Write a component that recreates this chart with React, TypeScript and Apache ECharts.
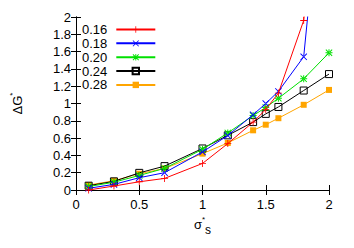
import React, { useEffect, useRef } from "react";
import * as echarts from "echarts";

const xValues = [0.1, 0.3, 0.5, 0.7, 1.0, 1.2, 1.4, 1.5, 1.6, 1.8, 2.0];
const seriesNames = ["0.16", "0.18", "0.20", "0.24", "0.28"];
const s016 = [0.0, 0.046, 0.095, 0.134, 0.307, 0.537, 0.785, 0.93, 1.12, 1.96, 5.0];
const s018 = [0.02, 0.065, 0.142, 0.2, 0.44, 0.63, 0.87, 1.0, 1.14, 1.54, 4.5];
const s020 = [0.04, 0.09, 0.168, 0.25, 0.47, 0.66, 0.86, 0.955, 1.06, 1.285, 1.586];
const s024 = [0.05, 0.1, 0.198, 0.276, 0.48, 0.632, 0.785, 0.88, 0.96, 1.15, 1.34];
const s028 = [0.057, 0.107, 0.188, 0.249, 0.42, 0.544, 0.69, 0.755, 0.83, 0.985, 1.157];

const PLUS = "path://M0,4.4H10V5.6H0ZM4.4,0H5.6V10H4.4Z";
const CROSS = "path://M0,0.9L0.9,0L10,9.1L9.1,10ZM10,0.9L9.1,0L0,9.1L0.9,10Z";
const STAR =
  "path://M0,4.3H10V5.7H0ZM4.3,0H5.7V10H4.3ZM0,1L1,0L10,9L9,10ZM10,1L9,0L0,9L1,10Z";

const FONT = "Liberation Sans, Arial, sans-serif";

export default function App() {
  const ref = useRef<HTMLDivElement>(null);
  useEffect(() => {
    if (!ref.current) return;
    const chart = echarts.init(ref.current, undefined, { renderer: "svg" });
    const allData = [s016, s018, s020, s024, s028];
    const colors = ["#ff0000", "#0000ff", "#00e000", "#000000", "#ffa500"];
    const symbols = [PLUS, CROSS, STAR, "rect", "rect"];
    const sizes = [7, 7, 7, 7, 6];
    const series = allData.map((d, i) => ({
      name: seriesNames[i],
      type: "line",
      data: xValues.map((x, j) => [x, d[j]]),
      symbol: symbols[i],
      symbolSize: sizes[i],
      showSymbol: true,
      clip: true,
      color: colors[i],
      lineStyle: { color: colors[i], width: 1 },
      itemStyle:
        i === 3
          ? { color: "rgba(0,0,0,0)", borderColor: "#000", borderWidth: 1 }
          : { color: colors[i], borderWidth: 0 },
      z: 10 - i,
    }));
    const tickStyle = { show: true, inside: true, length: 5, lineStyle: { color: "#000", width: 1 } };
    const lineStyle = { show: true, lineStyle: { color: "#000", width: 1 } };
    chart.setOption({
      animation: false,
      grid: { left: 67, right: 25, top: 17, bottom: 58, containLabel: false },
      legend: {
        data: seriesNames,
        orient: "vertical",
        left: 82,
        top: 23,
        padding: 0,
        align: "right",
        itemWidth: 39,
        itemHeight: 8,
        itemGap: 0.85,
        textStyle: { fontFamily: FONT, fontSize: 13, color: "#000", lineHeight: 13, padding: [0, 4, 0, 0] },
      },
      xAxis: [
        {
          type: "value",
          min: 0,
          max: 2,
          interval: 0.5,
          axisLine: lineStyle,
          axisTick: tickStyle,
          splitLine: { show: false },
          axisLabel: { color: "#000", fontSize: 13, fontFamily: FONT, margin: 8 },
          name: "{a|σ}{b|*}{c|s}",
          nameLocation: "middle",
          nameGap: 20,
          nameTextStyle: {
            rich: {
              a: { fontSize: 13, fontFamily: FONT, color: "#000" },
              b: { fontSize: 8, fontFamily: FONT, color: "#000", padding: [0, 0, 10, 0] },
              c: { fontSize: 12, fontFamily: FONT, color: "#000", padding: [10, 0, 0, 0] },
            },
          },
        },
        {
          type: "value",
          position: "top",
          min: 0,
          max: 2,
          interval: 0.5,
          axisLine: lineStyle,
          axisTick: tickStyle,
          splitLine: { show: false },
          axisLabel: { show: false },
        },
      ],
      yAxis: [
        {
          type: "value",
          min: 0,
          max: 2,
          interval: 0.2,
          axisLine: lineStyle,
          axisTick: tickStyle,
          splitLine: { show: false },
          axisLabel: { color: "#000", fontSize: 13, fontFamily: FONT, margin: 5 },
          name: "{a|ΔG}{b|*}",
          nameLocation: "middle",
          nameGap: 50,
          nameRotate: 90,
          nameTextStyle: {
            rich: {
              a: { fontSize: 13, fontFamily: FONT, color: "#000" },
              b: { fontSize: 8, fontFamily: FONT, color: "#000", padding: [0, 0, 10, 0] },
            },
          },
        },
        {
          type: "value",
          position: "right",
          min: 0,
          max: 2,
          interval: 0.2,
          axisLine: lineStyle,
          axisTick: tickStyle,
          splitLine: { show: false },
          axisLabel: { show: false },
        },
      ],
      series,
    });
    return () => chart.dispose();
  }, []);
  return (
    <div
      ref={ref}
      style={{ position: "fixed", left: 0, top: 0, width: 354, height: 248, background: "#fff" }}
    />
  );
}
